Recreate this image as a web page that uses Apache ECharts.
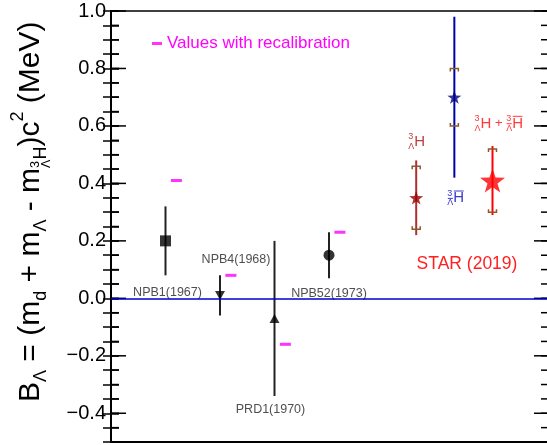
<!DOCTYPE html>
<html>
<head>
<meta charset="utf-8">
<script src="https://cdn.jsdelivr.net/npm/echarts@6/dist/echarts.min.js"></script>
<style>
  html, body { margin: 0; padding: 0; background: #fff; }
  #chart { width: 547px; height: 445px; }
</style>
</head>
<body>
<div id="chart"></div>
<script>
// older emulsion measurements
var oldNames = ['NPB1(1967)', 'NPB4(1968)', 'PRD1(1970)', 'NPB52(1973)'];
var oldX = [1.25, 2.5, 3.75, 5.0];
var oldB = [0.20, 0.01, -0.07, 0.15];
var oldErr = [0.12, 0.07, 0.27, 0.08];
// same measurements, recalibrated
var recalX = [1.5, 2.75, 4.0, 5.25];
var recalB = [0.41, 0.08, -0.16, 0.23];

// STAR (2019): hypertriton, anti-hypertriton, combined
var starX = [7.0, 7.875, 8.75];
var starB = [0.35, 0.70, 0.41];
var starStat = [0.13, 0.28, 0.12];
var starSyst = [0.11, 0.10, 0.11];

var yTicks = [-0.4, -0.2, 0.0, 0.2, 0.4, 0.6, 0.8, 1.0];
var yMin = -0.5, yMax = 1.0, yMinorStep = 0.05;
var xMin = 0, xMax = 10;

var FONT = 'Liberation Sans';
var BRACKET = '#8b5a2b';
var PLOT_LEFT = 111, PLOT_RIGHT = -2, PLOT_TOP = 11, PLOT_BOTTOM = 3;
var W = 547, H = 445;

// minor ticks every 0.05
var yMinor = [];
for (var k = 0; k <= 30; k++) yMinor.push(Math.round((yMin + k * yMinorStep) * 100) / 100);

// marker looks for the old points
var oldSymbols = ['rect', 'triangle', 'triangle', 'circle'];
var oldSymRot = [0, 180, 0, 0];
var oldSymSize = [11, [10, 9], [10, 9], 11];
var oldLabelOffset = [[2, 52], [16, -36], [-4, 91], [0, 38]];

var starColors = ['#990000', '#000080', '#ff0000'];
var starLineColors = ['#a83232', '#0000aa', '#ff0000'];
var starSizes = [14, 14, 25];
var starLabelColors = ['#c04040', '#3a3acc', '#ff3b3b'];
var starLabelOffset = [[-8, -56], [-7, 101], [-18, -57]];

function starPath() {
  var pts = [];
  for (var i = 0; i < 10; i++) {
    var r = i % 2 ? 0.4 : 1;
    var a = Math.PI / 2 + i * Math.PI / 5;
    pts.push((r * Math.cos(a)).toFixed(3) + ',' + (-r * Math.sin(a)).toFixed(3));
  }
  return 'path://M' + pts.join('L') + 'Z';
}
var STAR = starPath();

var ctx = document.createElement('canvas').getContext('2d');
function textW(t, s) {
  ctx.font = s + 'px "' + FONT + '"';
  return ctx.measureText(t).width;
}

// lay out runs of text (sub/superscripts) from x0, centre line y0
function layoutRuns(runs, x0, y0, color) {
  var x = x0, prevX = x0, els = [];
  runs.forEach(function (r) {
    var w = textW(r.t, r.s);
    var rx = r.stack ? prevX : x;
    var dy = r.dy || 0;
    els.push({
      type: 'text', x: rx, y: y0 + dy,
      style: { text: r.t, fontSize: r.s, fontFamily: FONT, fill: color,
               textAlign: 'left', textVerticalAlign: 'middle' }
    });
    if (r.bar) {
      var by = y0 + dy - r.s * 0.48;
      els.push({ type: 'line', shape: { x1: rx + 0.5, y1: by, x2: rx + w - 0.5, y2: by },
                 style: { stroke: color, lineWidth: 1 } });
    }
    if (r.stack) {
      x = Math.max(x, rx + w);
    } else {
      prevX = rx;
      x = rx + w;
    }
  });
  return { els: els, width: x - x0 };
}

function nucRuns(anti) {
  return [
    { t: '3', s: 9, dy: -5 },
    { t: 'Λ', s: 9, dy: 4.5, stack: true, bar: anti },
    { t: 'H', s: 15, bar: anti }
  ];
}
var starLabelRuns = [
  nucRuns(false),
  nucRuns(true),
  nucRuns(false).concat([{ t: ' + ', s: 13 }], nucRuns(true))
];

// y axis title
var S = 30;
var yTitleRuns = [
  { t: 'B', s: S },
  { t: 'Λ', s: 0.6 * S, dy: 0.32 * S },
  { t: ' = (m', s: S },
  { t: 'd', s: 0.6 * S, dy: 0.32 * S },
  { t: ' + m', s: S },
  { t: 'Λ', s: 0.6 * S, dy: 0.32 * S },
  { t: ' - m', s: S },
  { t: '3', s: 0.42 * S, dy: 0.14 * S },
  { t: 'Λ', s: 0.42 * S, dy: 0.52 * S, stack: true },
  { t: 'H', s: 0.6 * S, dy: 0.32 * S },
  { t: ')c', s: S },
  { t: '2', s: 0.6 * S, dy: -0.42 * S },
  { t: ' (MeV)', s: S }
];
var yTitle = layoutRuns(yTitleRuns, 0, 0, '#000');

function fmtTick(v) {
  return (v < 0 ? '\u2212' : '') + Math.abs(v).toFixed(1);
}

// frame ticks: value -> pixel on the frame, drawn on top of everything
var plotTop = PLOT_TOP, plotBot = H - PLOT_BOTTOM;
var plotL = PLOT_LEFT, plotR = W - PLOT_RIGHT;
function yPix(v) { return plotTop + (yMax - v) / (yMax - yMin) * (plotBot - plotTop); }
var tickEls = [];
function addTicks(values, len) {
  values.forEach(function (v) {
    var py = yPix(v);
    tickEls.push({ type: 'rect', shape: { x: plotL, y: py - 0.75, width: len, height: 1.5 },
                   style: { fill: '#000' } });
    tickEls.push({ type: 'rect', shape: { x: plotR - len, y: py - 0.75, width: len, height: 1.5 },
                   style: { fill: '#000' } });
  });
}
addTicks(yMinor, 8);
addTicks(yTicks, 15);

function xAxisDef(pos) {
  return {
    type: 'value', position: pos, min: xMin, max: xMax,
    axisLine: { show: true, onZero: false, lineStyle: { color: '#000', width: pos === 'top' ? 1.5 : 2 } },
    axisTick: { show: false }, axisLabel: { show: false }, splitLine: { show: false }
  };
}

var chart = echarts.init(document.getElementById('chart'));
chart.setOption({
  animation: false,
  grid: { left: PLOT_LEFT, top: PLOT_TOP, right: PLOT_RIGHT, bottom: PLOT_BOTTOM },
  xAxis: [xAxisDef('bottom'), xAxisDef('top')],
  yAxis: [{
    type: 'value', position: 'left', min: yMin, max: yMax, interval: yMinorStep,
    axisLine: { show: true, lineStyle: { color: '#000', width: 2 } },
    axisTick: { show: true, inside: true, length: 8, lineStyle: { color: '#000', width: 1.5 } },
    axisLabel: { customValues: yTicks, formatter: fmtTick,
                 color: '#000', fontSize: 20, fontFamily: FONT, margin: 5 },
    splitLine: { show: false }
  }, {
    type: 'value', position: 'right', min: yMin, max: yMax, interval: yMinorStep,
    axisLine: { show: true, lineStyle: { color: '#000', width: 2 } },
    axisTick: { show: true, inside: true, length: 8, lineStyle: { color: '#000', width: 1.5 } },
    axisLabel: { show: false }, splitLine: { show: false }
  }],
  legend: {
    data: ['Values with recalibration'],
    left: 152, top: 35, padding: 0,
    icon: 'rect', itemWidth: 10, itemHeight: 3,
    selectedMode: false,
    textStyle: { color: '#ff00ff', fontSize: 17, fontFamily: FONT }
  },
  graphic: [{
    type: 'group', x: 31, y: 402, rotation: Math.PI / 2,
    children: yTitle.els
  }, {
    type: 'text', x: 467, y: 264,
    style: { text: 'STAR (2019)', fontSize: 17.5, fontFamily: FONT, fill: '#ff2020',
             textAlign: 'center', textVerticalAlign: 'middle' }
  }, {
    type: 'group', z: 100, silent: true,
    children: tickEls
  }],
  series: [
    {
      type: 'custom', name: 'old-err',
      data: oldX.map(function (x, i) { return [x, oldB[i], oldErr[i]]; }),
      renderItem: function (params, api) {
        var x = api.value(0), y = api.value(1), e = api.value(2);
        var p1 = api.coord([x, y + e]), p2 = api.coord([x, y - e]);
        return { type: 'line', shape: { x1: p1[0], y1: p1[1], x2: p2[0], y2: p2[1] },
                 style: { stroke: '#222', lineWidth: 2 } };
      },
      markLine: {
        silent: true, symbol: 'none', label: { show: false },
        lineStyle: { color: '#0000cc', width: 1.5, type: 'solid' },
        data: [{ yAxis: 0 }]
      }
    },
    {
      type: 'scatter', name: 'old',
      data: oldX.map(function (x, i) {
        return {
          value: [x, oldB[i]], name: oldNames[i],
          symbol: oldSymbols[i], symbolRotate: oldSymRot[i], symbolSize: oldSymSize[i],
          label: { offset: oldLabelOffset[i] }
        };
      }),
      itemStyle: { color: '#000' },
      label: {
        show: true, position: 'inside', formatter: '{b}',
        color: '#222', fontSize: 12.5, fontFamily: FONT
      }
    },
    {
      type: 'scatter', name: 'Values with recalibration',
      data: recalX.map(function (x, i) { return [x, recalB[i]]; }),
      symbol: 'rect', symbolSize: [11, 3],
      itemStyle: { color: '#ff00ff' }
    },
    {
      type: 'custom', name: 'star-stat',
      data: starX.map(function (x, i) { return [x, starB[i], starStat[i], i]; }),
      renderItem: function (params, api) {
        var x = api.value(0), y = api.value(1), e = api.value(2);
        var p1 = api.coord([x, y + e]), p2 = api.coord([x, y - e]);
        return { type: 'line', shape: { x1: p1[0], y1: p1[1], x2: p2[0], y2: p2[1] },
                 style: { stroke: starLineColors[api.value(3)], lineWidth: 2 } };
      }
    },
    {
      type: 'custom', name: 'star-syst',
      data: starX.map(function (x, i) { return [x, starB[i], starSyst[i]]; }),
      renderItem: function (params, api) {
        var x = api.value(0), y = api.value(1), e = api.value(2);
        var t = api.coord([x, y + e]), b = api.coord([x, y - e]);
        var w = 4, h = 3;
        var st = { stroke: BRACKET, lineWidth: 1.5, fill: null };
        return { type: 'group', children: [
          { type: 'polyline', shape: { points: [[t[0] - w, t[1] + h], [t[0] - w, t[1]], [t[0] + w, t[1]], [t[0] + w, t[1] + h]] }, style: st },
          { type: 'polyline', shape: { points: [[b[0] - w, b[1] - h], [b[0] - w, b[1]], [b[0] + w, b[1]], [b[0] + w, b[1] - h]] }, style: st }
        ] };
      }
    },
    {
      type: 'scatter', name: 'star',
      data: starX.map(function (x, i) {
        return { value: [x, starB[i]], symbolSize: starSizes[i], itemStyle: { color: starColors[i] } };
      }),
      symbol: STAR, symbolKeepAspect: true
    },
    {
      type: 'custom', name: 'star-labels',
      data: starX.map(function (x, i) { return [x, starB[i], i]; }),
      renderItem: function (params, api) {
        var i = api.value(2);
        var p = api.coord([api.value(0), api.value(1)]);
        var off = starLabelOffset[i];
        var lay = layoutRuns(starLabelRuns[i], p[0] + off[0], p[1] + off[1], starLabelColors[i]);
        return { type: 'group', children: lay.els };
      }
    }
  ]
});
</script>
</body>
</html>
